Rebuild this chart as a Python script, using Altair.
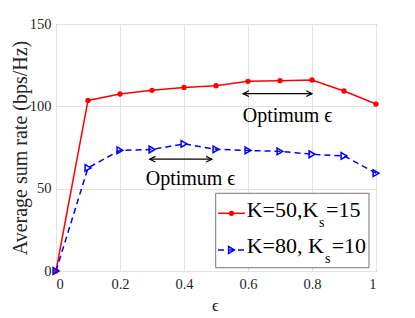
import altair as alt
import pandas as pd

# ---- data ----
eps = [0.0, 0.1, 0.2, 0.3, 0.4, 0.5, 0.6, 0.7, 0.8, 0.9, 1.0]
rate_k50 = [0.0, 103.6, 107.5, 109.7, 111.5, 112.5, 115.2, 115.6, 116.0, 109.3, 101.4]
rate_k80 = [0.0, 62.6, 73.3, 73.8, 77.2, 73.9, 73.2, 72.7, 70.9, 69.9, 59.4]

x_ticks = [0, 0.2, 0.4, 0.6, 0.8, 1]
y_ticks = [0, 50, 100, 150]

# annotation arrows (x range, y level) and labels
arrow_upper_x = [0.585, 0.80]
arrow_upper_y = 107.7
arrow_lower_x = [0.293, 0.487]
arrow_lower_y = 67.9
label_text = "Optimum ϵ"

FONT = "Times New Roman, Liberation Serif, Tinos, DejaVu Serif, serif"
RED = "#ff0000"
BLUE = "#0000ff"

df50 = pd.DataFrame({"eps": eps, "rate": rate_k50})
df80 = pd.DataFrame({"eps": eps, "rate": rate_k80})

xscale = alt.Scale(domain=[0, 1], nice=False, zero=False)
yscale = alt.Scale(domain=[0, 150], nice=False)

xaxis = alt.Axis(values=x_ticks, format="~g", title="ϵ", grid=True,
                 labelFontSize=14.5, labelPadding=6, titleFontSize=17,
                 titleFontWeight="normal", titleX=159, titleY=39,
                 titleBaseline="alphabetic", titleAlign="center")
yaxis = alt.Axis(values=y_ticks, title="Average sum rate (bps/Hz)", grid=True,
                 labelFontSize=14.5, labelPadding=5, titleFontSize=20,
                 titleFontWeight="normal", titleAngle=270, titleX=-30,
                 titleY=123.5, titleBaseline="alphabetic", titleAlign="center")

base50 = alt.Chart(df50).encode(
    x=alt.X("eps:Q", scale=xscale, axis=xaxis),
    y=alt.Y("rate:Q", scale=yscale, axis=yaxis),
)
line50 = base50.mark_line(color=RED, strokeWidth=1.5)
pts50 = base50.mark_point(color=RED, filled=True, size=28, opacity=1, shape="circle")

base80 = alt.Chart(df80).encode(
    x=alt.X("eps:Q", scale=xscale),
    y=alt.Y("rate:Q", scale=yscale),
)
line80 = base80.mark_line(color=BLUE, strokeWidth=1.5, strokeDash=[6, 4])
pts80 = base80.mark_point(color=BLUE, filled=False, size=45, strokeWidth=1.5,
                          opacity=1, shape="triangle-right")

ARROW_R = "M-1,-0.5L0,0L-1,0.5"
ARROW_L = "M1,-0.5L0,0L1,0.5"


def arrow(xs, yv):
    d = pd.DataFrame({"x0": [xs[0]], "x1": [xs[1]], "y": [yv]})
    c = alt.Chart(d)
    shaft = c.mark_rule(color="black", strokeWidth=1.2).encode(
        x=alt.X("x0:Q", scale=xscale), x2="x1:Q", y=alt.Y("y:Q", scale=yscale))
    head_l = c.mark_point(shape=ARROW_L, filled=False, color="black", size=130,
                          strokeWidth=1.2, opacity=1).encode(
        x=alt.X("x0:Q", scale=xscale), y=alt.Y("y:Q", scale=yscale))
    head_r = c.mark_point(shape=ARROW_R, filled=False, color="black", size=130,
                          strokeWidth=1.2, opacity=1).encode(
        x=alt.X("x1:Q", scale=xscale), y=alt.Y("y:Q", scale=yscale))
    return shaft + head_l + head_r


one = pd.DataFrame({"k": [0]})


def txt(s, x, y, size):
    return alt.Chart(one).mark_text(text=s, font=FONT, fontSize=size, align="left",
                                    baseline="alphabetic", color="black").encode(
        x=alt.value(x), y=alt.value(y))


ann = (txt(label_text, 186.7, 97.7, 20) + txt(label_text, 89.7, 161, 20))

# legend (drawn manually to allow subscripts)
legend_box = alt.Chart(one).mark_rect(fill="white", stroke="#777", strokeWidth=1).encode(
    x=alt.value(159.7), x2=alt.value(313), y=alt.value(169.3), y2=alt.value(243.7))
leg_l1 = alt.Chart(one).mark_rule(color=RED, strokeWidth=1.5).encode(
    x=alt.value(162), x2=alt.value(189), y=alt.value(189.3))
leg_p1 = alt.Chart(one).mark_point(color=RED, filled=True, size=28, opacity=1).encode(
    x=alt.value(175.5), y=alt.value(189.3))
leg_l2 = alt.Chart(one).mark_rule(color=BLUE, strokeWidth=1.5, strokeDash=[6, 4]).encode(
    x=alt.value(162), x2=alt.value(189), y=alt.value(226))
leg_p2 = alt.Chart(one).mark_point(color=BLUE, filled=False, size=45, strokeWidth=1.5,
                                   opacity=1, shape="triangle-right").encode(
    x=alt.value(175.5), y=alt.value(226))
leg_txt = (txt("K=50,K", 190.7, 192.7, 22) + txt("s", 263, 202.7, 14) + txt("=15", 270, 192.7, 22)
           + txt("K=80, K", 190.7, 228.7, 22) + txt("s", 269, 238.7, 14) + txt("=10", 275.7, 228.7, 22))

chart = alt.layer(
    line50, line80, pts50, pts80,
    arrow(arrow_upper_x, arrow_upper_y), arrow(arrow_lower_x, arrow_lower_y),
    ann, legend_box, leg_l1, leg_l2, leg_p1, leg_p2, leg_txt,
).properties(
    width=320, height=247,
    padding={"left": 48, "top": 16, "right": 31, "bottom": 46},
    autosize=alt.AutoSizeParams(type="none"),
).configure(font=FONT).configure_view(
    stroke="#444", strokeWidth=1
).configure_axis(
    gridColor="#e3e3e3", gridWidth=1, domain=False, ticks=False,
    labelColor="#262626", titleColor="#262626", labelFont=FONT, titleFont=FONT,
)

chart.save("out.html", embed_options={"renderer": "svg", "actions": False})
